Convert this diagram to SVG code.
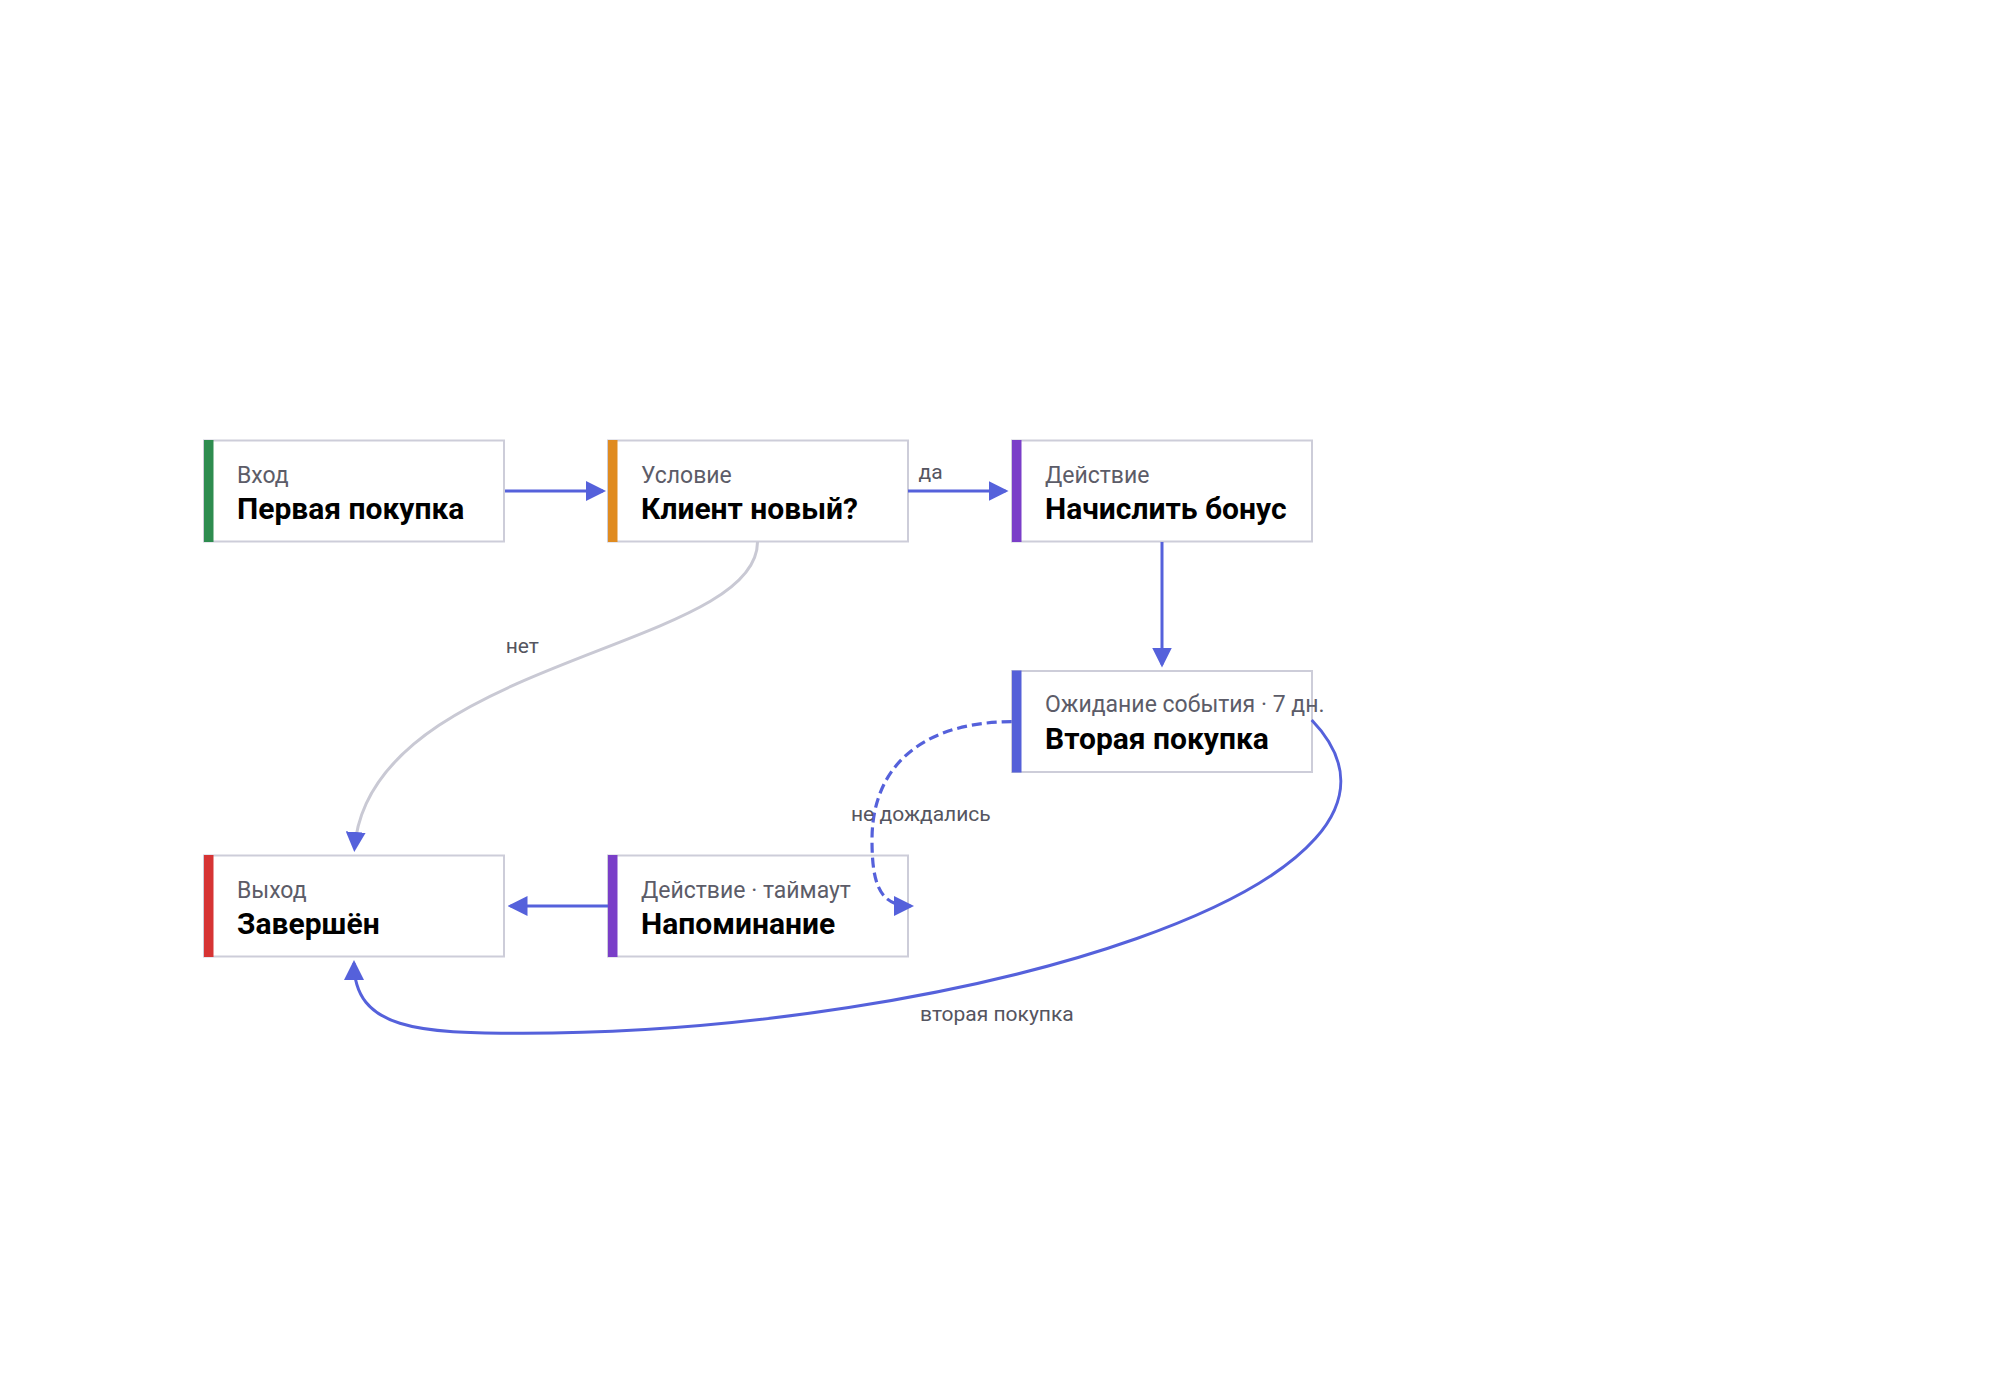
<svg xmlns="http://www.w3.org/2000/svg" width="2000" height="1400" viewBox="0 0 2000 1400">
<style>
.box{fill:#ffffff;stroke:#cdcdd9;stroke-width:2}
.sub{font-family:Roboto,"Noto Sans",sans-serif;font-size:23px;fill:#5c5c68}
.ttl{font-family:Roboto,"Noto Sans",sans-serif;font-size:30px;font-weight:bold;fill:#000000}
.lbl{font-family:Roboto,"Noto Sans",sans-serif;font-size:21px;fill:#555560}
.e{fill:none;stroke:#5561db;stroke-width:3}
.eg{fill:none;stroke:#c9c9d4;stroke-width:3}
.ed{fill:none;stroke:#5561db;stroke-width:3.2;stroke-dasharray:10 5}
</style>
<defs>
<marker id="arr" viewBox="0 0 20 20" refX="17" refY="10" markerWidth="20" markerHeight="20" markerUnits="userSpaceOnUse" orient="auto">
<path d="M0,0 L20,10 L0,20 Z" fill="#5561db"/>
</marker>
</defs>
<rect width="2000" height="1400" fill="#ffffff"/>
<g id="entry">
<rect class="box" x="204" y="440.5" width="300" height="101"/>
<rect x="204" y="440" width="9.5" height="102" fill="#2e8c4f"/>
<text class="sub" x="237" y="483">Вход</text>
<text class="ttl" x="237" y="519">Первая покупка</text>
</g>
<g id="condition">
<rect class="box" x="608" y="440.5" width="300" height="101"/>
<rect x="608" y="440" width="9.5" height="102" fill="#e08b1f"/>
<text class="sub" x="641" y="483">Условие</text>
<text class="ttl" x="641" y="519">Клиент новый?</text>
</g>
<g id="bonus">
<rect class="box" x="1012" y="440.5" width="300" height="101"/>
<rect x="1012" y="440" width="9.5" height="102" fill="#7a3ec8"/>
<text class="sub" x="1045" y="483">Действие</text>
<text class="ttl" x="1045" y="519">Начислить бонус</text>
</g>
<g id="wait">
<rect class="box" x="1012" y="671" width="300" height="101"/>
<rect x="1012" y="670.5" width="9.5" height="102" fill="#5560d8"/>
<text class="sub" x="1045" y="712">Ожидание события · 7 дн.</text>
<text class="ttl" x="1045" y="748.5">Вторая покупка</text>
</g>
<g id="exit">
<rect class="box" x="204" y="855.5" width="300" height="101"/>
<rect x="204" y="855" width="9.5" height="102" fill="#d63434"/>
<text class="sub" x="237" y="898">Выход</text>
<text class="ttl" x="237" y="934">Завершён</text>
</g>
<g id="reminder">
<rect class="box" x="608" y="855.5" width="300" height="101"/>
<rect x="608" y="855" width="9.5" height="102" fill="#7a3ec8"/>
<text class="sub" x="641" y="898">Действие · таймаут</text>
<text class="ttl" x="641" y="934">Напоминание</text>
</g>
<g id="connectors">
<path class="e" d="M505 491 H603" marker-end="url(#arr)"/>
<path class="e" d="M908 491 H1005.5" marker-end="url(#arr)"/>
<path class="e" d="M1162 542 V664.5" marker-end="url(#arr)"/>
<path class="eg" d="M757.5 542 C757.5 650 368 660 354.5 849" marker-end="url(#arr)"/>
<path class="ed" d="M1011.7 721.7 C930 721.7 872 760 872 840 C872 885 880 906 911 906" marker-end="url(#arr)"/>
<path class="e" d="M608 906 H510.5" marker-end="url(#arr)"/>
<path class="e" d="M1311.7 720 C1470 885 950 1033.3 523 1033.3 C420 1033.3 354 1030 354 963" marker-end="url(#arr)"/>
<text class="lbl" x="918.5" y="478.5">да</text>
<text class="lbl" x="505.7" y="652.7">нет</text>
<text class="lbl" x="851" y="820.5">не дождались</text>
<text class="lbl" x="920" y="1020.7">вторая покупка</text>
</g>
</svg>
